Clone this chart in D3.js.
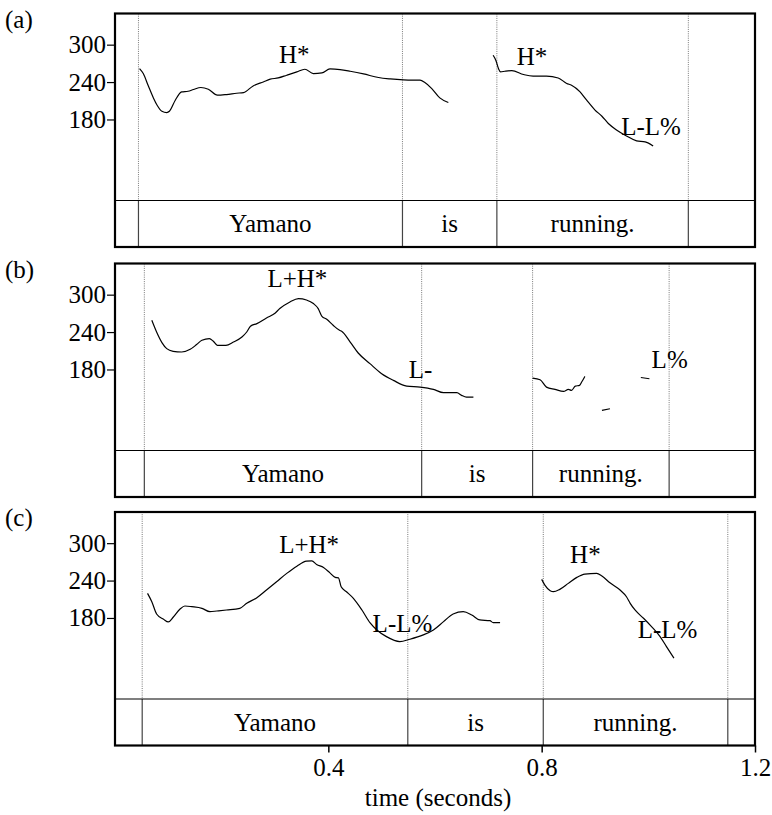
<!DOCTYPE html>
<html>
<head>
<meta charset="utf-8">
<script src="https://cdn.jsdelivr.net/npm/d3@7"></script>
<style>
  html, body { margin: 0; padding: 0; background: #fff; }
  svg text { font-family: "Liberation Serif", "Times New Roman", Tinos, "DejaVu Serif", "Noto Serif", FreeSerif, serif !important; fill: #000; }
</style>
</head>
<body>
<svg id="chart" width="772" height="815"></svg>
<script>
// ---------------- data ----------------
const panelLabels = ["(a)", "(b)", "(c)"];
const words = ["Yamano", "is", "running."];
const yTicks = [180, 240, 300];
const xTicks = [0.4, 0.8, 1.2];
const xTickLabels = ["0.4", "0.8", "1.2"];
const xTitle = "time (seconds)";

// word boundaries (seconds) for each panel
const boundsA = [0.044, 0.539, 0.716, 1.075];
const boundsB = [0.055, 0.575, 0.783, 1.039];
const boundsC = [0.051, 0.549, 0.803, 1.149];

// pitch contours [time s, F0 Hz]
const pitchA1 = [[0.046,261.7],[0.053,253.7],[0.062,234.9],[0.072,214.6],[0.079,202.9],[0.088,193.2],[0.097,191.1],[0.102,193.2],[0.113,210.9],[0.125,224.2],[0.137,225.3],[0.147,228.0],[0.161,231.3],[0.175,228.5],[0.192,218.9],[0.209,220.0],[0.228,222.1],[0.241,223.2],[0.259,233.8],[0.278,240.2],[0.291,244.6],[0.306,246.6],[0.322,251.0],[0.341,256.3],[0.356,260.6],[0.372,253.7],[0.388,254.7],[0.403,261.1],[0.422,260.1],[0.441,257.4],[0.466,253.1],[0.494,247.3],[0.516,245.0],[0.541,243.4],[0.556,243.0],[0.572,243.0],[0.581,239.3],[0.594,229.6],[0.609,214.6],[0.625,207.2]];
const pitchA2 = [[0.709,283.1],[0.714,275.1],[0.719,261.7],[0.723,256.3],[0.731,257.4],[0.744,258.5],[0.766,252.1],[0.784,249.4],[0.809,249.4],[0.831,246.6],[0.847,237.7],[0.856,234.9],[0.872,224.2],[0.884,211.3],[0.900,195.1],[0.913,185.2],[0.925,173.5],[0.941,162.8],[0.959,153.6],[0.978,145.6],[0.994,144.0],[1.009,137.6]];
const pitchB1 = [[0.069,258.9],[0.078,240.1],[0.088,223.1],[0.097,213.4],[0.109,209.1],[0.125,208.0],[0.141,212.3],[0.153,219.9],[0.163,226.8],[0.177,229.5],[0.184,225.6],[0.192,218.7],[0.208,218.7],[0.222,224.0],[0.238,232.1],[0.247,240.1],[0.254,249.3],[0.266,253.6],[0.284,262.6],[0.300,270.2],[0.309,277.7],[0.328,288.3],[0.344,293.8],[0.359,291.5],[0.372,285.7],[0.381,277.7],[0.388,265.3],[0.397,260.5],[0.409,250.9],[0.421,242.8],[0.425,241.2],[0.441,224.0],[0.456,206.4],[0.478,189.3],[0.500,173.2],[0.522,162.5],[0.547,153.3],[0.572,151.7],[0.597,148.0],[0.616,142.7],[0.641,142.7],[0.650,138.4],[0.659,135.7],[0.672,135.7]];
const pitchB2 = [[0.783,166.2],[0.797,163.6],[0.809,151.7],[0.825,148.0],[0.841,144.8],[0.850,148.0],[0.856,146.4],[0.863,153.3],[0.871,154.5],[0.875,159.8],[0.881,168.9]];
const pitchB3 = [[0.913,114.3],[0.928,117.0]];
const pitchB4 = [[0.986,167.1],[1.002,165.1]];
const pitchC1 = [[0.061,219.5],[0.069,206.1],[0.078,186.4],[0.091,177.9],[0.100,173.6],[0.109,181.1],[0.122,194.4],[0.131,199.2],[0.144,198.1],[0.163,195.5],[0.178,190.1],[0.191,191.2],[0.209,192.8],[0.234,195.5],[0.247,203.5],[0.266,212.5],[0.284,224.8],[0.303,238.0],[0.322,251.5],[0.341,263.1],[0.359,271.1],[0.369,271.6],[0.378,265.9],[0.391,261.1],[0.403,252.4],[0.413,245.1],[0.419,244.4],[0.424,230.0],[0.434,222.1],[0.447,211.5],[0.463,192.8],[0.478,172.5],[0.491,160.8],[0.509,150.1],[0.534,142.1],[0.553,145.9],[0.578,152.8],[0.597,160.8],[0.616,174.1],[0.634,186.4],[0.653,190.1],[0.669,184.8],[0.684,176.8],[0.703,175.7],[0.709,172.5],[0.722,172.5]];
const pitchC2 = [[0.800,241.9],[0.806,232.8],[0.816,223.7],[0.822,222.1],[0.834,225.9],[0.850,235.5],[0.866,245.1],[0.881,250.4],[0.903,251.5],[0.913,247.2],[0.928,236.4],[0.947,224.8],[0.959,214.1],[0.966,203.5],[0.975,192.8],[0.991,179.5],[1.006,166.1],[1.022,150.1],[1.034,134.1],[1.048,115.6]];

// tone annotations: [label, time s, F0 Hz]
const tonesA = [["H*", 0.336, 270], ["H*", 0.782, 267], ["L-L%", 1.005, 155]];
const tonesB = [["L+H*", 0.342, 312], ["L-", 0.573, 167], ["L%", 1.040, 182]];
const tonesC = [["L+H*", 0.364, 285], ["L-L%", 0.539, 158], ["H*", 0.882, 268], ["L-L%", 1.036, 148]];

const panels = [
  { label: panelLabels[0], bounds: boundsA, tracks: [pitchA1, pitchA2], tones: tonesA },
  { label: panelLabels[1], bounds: boundsB, tracks: [pitchB1, pitchB2, pitchB3, pitchB4], tones: tonesB },
  { label: panelLabels[2], bounds: boundsC, tracks: [pitchC1, pitchC2], tones: tonesC }
];

// ---------------- layout ----------------
const svg = d3.select("#chart");
const left = 115, right = 755;
const panelTops = [13.5, 263.5, 512];
const pitchH = 187, tierH = 46.5;
const FS = 25;
const FF = '"Liberation Serif", "Times New Roman", Tinos, "DejaVu Serif", serif';

const x = d3.scaleLinear().domain([0, 1.2]).range([left, right]);

panels.forEach((p, i) => {
  const top = panelTops[i];
  const tierTop = top + pitchH;
  const bottom = tierTop + tierH;
  const y = d3.scaleLinear().domain([50, 350]).range([tierTop, top]);
  const g = svg.append("g").attr("font-family", FF);

  // panel label
  g.append("text").attr("x", 5).attr("y", top + 14)
    .attr("font-size", FS).text(p.label);

  // y axis
  const yAxis = d3.axisLeft(y).tickValues(yTicks).tickSize(8).tickPadding(1)
    .tickFormat(d3.format("d"));
  const ya = g.append("g").attr("transform", `translate(${left},0)`).call(yAxis)
    .attr("font-family", FF);
  ya.select(".domain").remove();
  ya.selectAll(".tick line").attr("stroke", "#000").attr("stroke-width", 1.2);
  ya.selectAll(".tick text").attr("font-size", FS).attr("fill", "#000");

  // word boundaries: dotted in pitch area, solid in tier
  g.selectAll(".bdot").data(p.bounds).join("line")
    .attr("x1", d => x(d)).attr("x2", d => x(d))
    .attr("y1", top).attr("y2", tierTop)
    .attr("stroke", "#777").attr("stroke-width", 1)
    .attr("stroke-dasharray", "1,1.2");
  g.selectAll(".bsol").data(p.bounds).join("line")
    .attr("x1", d => x(d)).attr("x2", d => x(d))
    .attr("y1", tierTop).attr("y2", bottom)
    .attr("stroke", "#444").attr("stroke-width", 1.2);

  // words in tier
  g.selectAll(".word").data(words).join("text")
    .attr("x", (d, j) => (x(p.bounds[j]) + x(p.bounds[j + 1])) / 2)
    .attr("y", tierTop + tierH / 2 + 8.5)
    .attr("text-anchor", "middle").attr("font-size", FS)
    .text(d => d);

  // pitch tracks
  const line = d3.line().x(d => x(d[0])).y(d => y(d[1])).curve(d3.curveMonotoneX);
  g.selectAll(".track").data(p.tracks).join("path")
    .attr("d", line).attr("fill", "none")
    .attr("stroke", "#000").attr("stroke-width", 1.2);

  // tone labels
  g.selectAll(".tone").data(p.tones).join("text")
    .attr("x", d => x(d[1])).attr("y", d => y(d[2]))
    .attr("text-anchor", "middle").attr("font-size", FS)
    .text(d => d[0]);

  // tier separator and frame
  g.append("line").attr("x1", left).attr("x2", right)
    .attr("y1", tierTop).attr("y2", tierTop)
    .attr("stroke", "#000").attr("stroke-width", 1.2);
  g.append("rect").attr("x", left).attr("y", top)
    .attr("width", right - left).attr("height", bottom - top)
    .attr("fill", "none").attr("stroke", "#000").attr("stroke-width", 2.2);

  if (i === panels.length - 1) {
    const xAxis = d3.axisBottom(x).tickValues(xTicks).tickSize(7).tickPadding(6)
      .tickFormat((d, k) => xTickLabels[k]);
    const xa = svg.append("g").attr("transform", `translate(0,${bottom})`).call(xAxis)
      .attr("font-family", FF);
    xa.select(".domain").remove();
    xa.selectAll(".tick line").attr("stroke", "#000").attr("stroke-width", 1.5);
    xa.selectAll(".tick text").attr("font-size", FS).attr("fill", "#000");
    svg.append("text").attr("x", (left + right) / 2 + 3).attr("y", bottom + 60)
      .attr("font-family", FF)
      .attr("text-anchor", "middle").attr("font-size", FS).text(xTitle);
  }
});
</script>
</body>
</html>
